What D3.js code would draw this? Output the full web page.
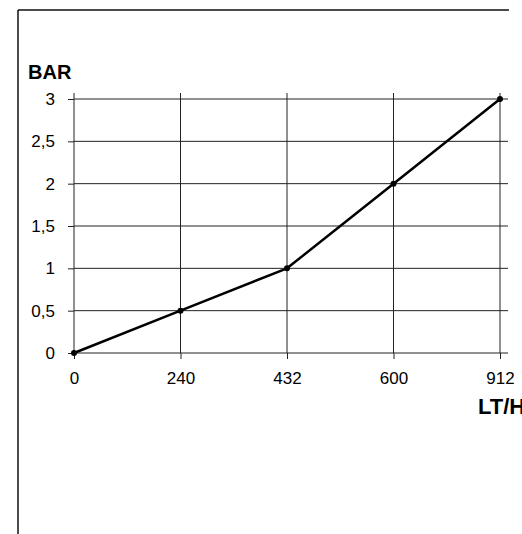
<!DOCTYPE html>
<html><head><meta charset="utf-8">
<script src="https://cdn.jsdelivr.net/npm/d3@7"></script>
<style>
html,body{margin:0;padding:0;background:#fff;overflow:hidden;}
svg{display:block;}
text{font-family:"Liberation Sans",Arial,sans-serif;fill:#000;}
</style></head>
<body>
<script>
const categories = ["0","240","432","600","912"];
const pressure = [0, 0.5, 1, 2, 3];
const yTicks = [0, 0.5, 1, 1.5, 2, 2.5, 3];
const yTitle = "BAR";
const xTitle = "LT/H";

const W = 522, H = 534;
const svg = d3.select("body").append("svg").attr("width", W).attr("height", H);

// frame lines (scanned page border)
svg.append("line").attr("x1",18).attr("x2",509).attr("y1",10).attr("y2",10).attr("stroke","#111").attr("stroke-width",1.5);
svg.append("line").attr("x1",18).attr("x2",18).attr("y1",10).attr("y2",534).attr("stroke","#111").attr("stroke-width",1.5);

const x = d3.scalePoint().domain(categories).range([74, 500]);
const y = d3.scaleLinear().domain([0, 3]).range([353, 99]);

const fmt = d => String(d).replace(".", ",");

// horizontal gridlines + y labels
const yAxis = svg.append("g").attr("transform","translate(74,0)")
  .call(d3.axisLeft(y).tickValues(yTicks).tickFormat(fmt).tickSize(6).tickPadding(13));
yAxis.select(".domain").remove();
yAxis.selectAll(".tick line").attr("stroke","#222");
yAxis.selectAll(".tick text").attr("font-size",17).attr("fill","#000");
svg.append("g").selectAll("line").data(yTicks).join("line")
  .attr("x1",74).attr("x2",508).attr("y1",d=>y(d)).attr("y2",d=>y(d))
  .attr("stroke","#222").attr("stroke-width",1);

// vertical gridlines + x labels
const xAxis = svg.append("g").attr("transform","translate(0,353)")
  .call(d3.axisBottom(x).tickSize(6).tickPadding(13));
xAxis.select(".domain").remove();
xAxis.selectAll(".tick line").attr("stroke","#222");
xAxis.selectAll(".tick text").attr("font-size",17).attr("fill","#000");
svg.append("g").selectAll("line").data(categories).join("line")
  .attr("x1",d=>x(d)).attr("x2",d=>x(d)).attr("y1",93).attr("y2",353)
  .attr("stroke","#222").attr("stroke-width",1);

// data line
const line = d3.line().x((d,i)=>x(categories[i])).y(d=>y(d));
svg.append("path").datum(pressure).attr("d",line)
  .attr("fill","none").attr("stroke","#000").attr("stroke-width",2.5).attr("stroke-linejoin","round");
svg.append("g").selectAll("circle").data(pressure).join("circle")
  .attr("cx",(d,i)=>x(categories[i])).attr("cy",d=>y(d)).attr("r",3).attr("fill","#000");

// titles
svg.append("text").attr("x",28).attr("y",79).attr("font-size",20).attr("font-weight","bold").text(yTitle);
svg.append("text").attr("x",478).attr("y",414).attr("font-size",22).attr("font-weight","bold").text(xTitle);
</script>
</body></html>
